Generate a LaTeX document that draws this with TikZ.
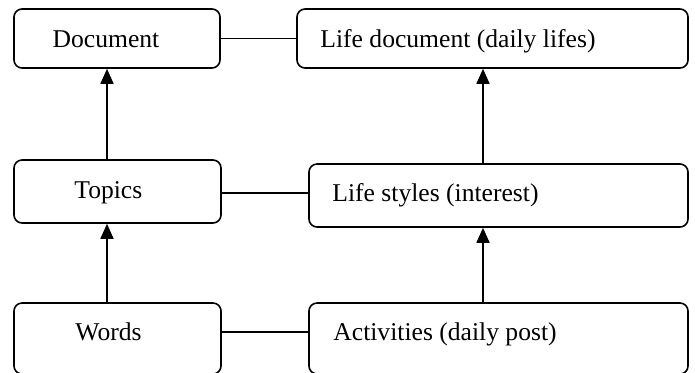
\documentclass[tikz,border=0pt]{standalone}
\usepackage{fontspec}
\setmainfont{Liberation Serif}
\usetikzlibrary{arrows.meta}
\begin{document}
\begin{tikzpicture}[x=0.5pt,y=-0.5pt,
  box/.style={draw,line width=0.8pt,rounded corners=4pt,inner sep=0pt},
  lbl/.style={inner sep=0pt,font=\fontsize{12.8}{15}\selectfont},
  arr/.style={line width=0.85pt,-{Triangle[width=6.5pt,length=7.5pt]}},
  conn/.style={line width=0.8pt}]
\useasboundingbox (0,0) rectangle (695,372);
% boxes
\node[box,minimum width=103pt,minimum height=29.5pt] (doc) at (117,38.5) {};
\node[box,minimum width=195.5pt,minimum height=29.5pt] (lifedoc) at (492.5,38.5) {};
\node[box,minimum width=103.5pt,minimum height=31.5pt] (topics) at (117.5,191.5) {};
\node[box,minimum width=189.5pt,minimum height=31.5pt] (lifestyles) at (498.5,195.5) {};
\node[box,minimum width=103.5pt,minimum height=35.5pt] (words) at (117.5,338.5) {};
\node[box,minimum width=189.5pt,minimum height=35.5pt] (activities) at (498.5,338.5) {};
% labels
\node[lbl,anchor=base] (tdoc) at (106,47) {Document};
\node[lbl,anchor=base west] (tlifedoc) at (320,47) {Life document (daily lifes)};
\node[lbl,anchor=base west] (ttopics) at (74,198) {Topics};
\node[lbl,anchor=base west] (tlifestyles) at (332,201) {Life styles (interest)};
\node[lbl,anchor=base west] (twords) at (75,340) {Words};
\node[lbl,anchor=base west] (tactivities) at (333,340) {Activities (daily post)};
% horizontal connectors
\draw[conn] (doc.east) -- (doc.east -| lifedoc.west);
\draw[conn] ([yshift=-0.75pt]topics.east) -- ([yshift=-0.75pt]topics.east -| lifestyles.west);
\draw[conn] ([yshift=3.25pt]words.east) -- ([yshift=3.25pt]words.east -| activities.west);
% arrows
\draw[arr] ([xshift=-5.25pt]words.north) -- ([xshift=-5.25pt]words.north |- topics.south);
\draw[arr] ([xshift=-5.25pt]topics.north) -- ([xshift=-5.25pt]topics.north |- doc.south);
\draw[arr] ([xshift=-7.75pt]activities.north) -- ([xshift=-7.75pt]activities.north |- lifestyles.south);
\draw[arr] ([xshift=-7.75pt]lifestyles.north) -- ([xshift=-7.75pt]lifestyles.north |- lifedoc.south);
\end{tikzpicture}
\end{document}
